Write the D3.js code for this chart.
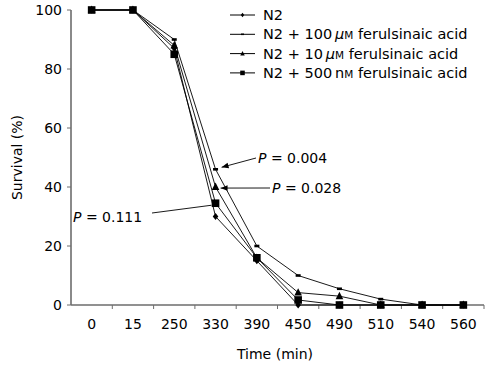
<!DOCTYPE html>
<html>
<head>
<meta charset="utf-8">
<script src="https://d3js.org/d3.v7.min.js"></script>
<style>
  body { margin: 0; background: #fff; }
  svg text { font-family: "DejaVu Sans", "Open Sans", sans-serif; fill: #000; }
</style>
</head>
<body>
<svg id="chart" width="485" height="365"></svg>
<script>
// data
var times   = ["0", "15", "250", "330", "390", "450", "490", "510", "540", "560"];
var n2      = [100, 100, 87, 30, 15, 0, 0, 0, 0, 0];
var fa100uM = [100, 100, 90, 46, 20, 10, 5.5, 2, 0, 0];
var fa10uM  = [100, 100, 88, 40, 16, 4.2, 3, 0, 0, 0];
var fa500nM = [100, 100, 85, 34.5, 16, 1.7, 0, 0, 0, 0];
var yTicks  = [0, 20, 40, 60, 80, 100];

var svg = d3.select("#chart");

var x = d3.scaleBand().domain(times).range([71, 484]).padding(0);
var y = d3.scaleLinear().domain([0, 100]).range([305, 10]);
function cx(t) { return x(t) + x.bandwidth() / 2; }

var series = [
  {name: "N2", vals: n2, sym: "diamond"},
  {name: "N2 + 100 μM ferulsinaic acid", vals: fa100uM, sym: "dash", conc: "100", unit: "μ"},
  {name: "N2 + 10 μM ferulsinaic acid", vals: fa10uM, sym: "triangle", conc: "10", unit: "μ"},
  {name: "N2 + 500 nM ferulsinaic acid", vals: fa500nM, sym: "square", conc: "500", unit: "n"}
];

function drawMarker(g, sym, px, py, s) {
  if (sym == "diamond") {
    g.append("path").attr("d", "M" + px + "," + (py - 3.6 * s) + "L" + (px + 2.8 * s) + "," + py +
      "L" + px + "," + (py + 3.6 * s) + "L" + (px - 2.8 * s) + "," + py + "Z").attr("fill", "#000");
  } else if (sym == "dash") {
    g.append("rect").attr("x", px - 2.5 * s).attr("y", py - 1.3 * s)
      .attr("width", 5 * s).attr("height", 2.6 * s).attr("fill", "#000");
  } else if (sym == "triangle") {
    g.append("path").attr("d", "M" + px + "," + (py - 4.4 * s) + "L" + (px + 3.8 * s) + "," + (py + 3 * s) +
      "L" + (px - 3.8 * s) + "," + (py + 3 * s) + "Z").attr("fill", "#000");
  } else {
    g.append("rect").attr("x", px - 3.8 * s).attr("y", py - 3.8 * s)
      .attr("width", 7.6 * s).attr("height", 7.6 * s).attr("fill", "#000");
  }
}

// axes
var axisCol = "#6d6d6d";
svg.append("line").attr("x1", 71).attr("x2", 71).attr("y1", y(100)).attr("y2", y(0))
  .attr("stroke", axisCol).attr("stroke-width", 1.6);
svg.append("line").attr("x1", 71).attr("x2", 484).attr("y1", y(0)).attr("y2", y(0))
  .attr("stroke", axisCol).attr("stroke-width", 1.6);

yTicks.forEach(function(v) {
  svg.append("line").attr("x1", 67).attr("x2", 71).attr("y1", y(v)).attr("y2", y(v))
    .attr("stroke", axisCol).attr("stroke-width", 1);
  svg.append("text").attr("x", 62).attr("y", y(v) + 5).attr("text-anchor", "end")
    .attr("font-size", 14).text(v);
});

times.forEach(function(t, i) {
  svg.append("line").attr("x1", x(t) + x.bandwidth()).attr("x2", x(t) + x.bandwidth())
    .attr("y1", y(0)).attr("y2", y(0) + 4).attr("stroke", axisCol).attr("stroke-width", 1);
  svg.append("text").attr("x", cx(t)).attr("y", 329).attr("text-anchor", "middle")
    .attr("font-size", 14).text(t);
});

svg.append("text").attr("x", 275).attr("y", 359).attr("text-anchor", "middle")
  .attr("font-size", 14).text("Time (min)");
svg.append("text").attr("transform", "translate(22," + y(50) + ") rotate(-90)")
  .attr("text-anchor", "middle").attr("font-size", 14).text("Survival (%)");

// lines + markers
var line = d3.line().x(function(d, i) { return cx(times[i]); }).y(function(d) { return y(d); });
series.forEach(function(s) {
  svg.append("path").attr("d", line(s.vals)).attr("fill", "none")
    .attr("stroke", "#000").attr("stroke-width", 0.9);
});
var mk = svg.append("g");
series.slice().reverse().forEach(function(s) {
  s.vals.forEach(function(v, i) { drawMarker(mk, s.sym, cx(times[i]), y(v), 1); });
});

// legend
var leg = svg.append("g");
series.forEach(function(s, i) {
  var ly = 15 + i * 19.3;
  leg.append("line").attr("x1", 230).attr("x2", 255).attr("y1", ly).attr("y2", ly)
    .attr("stroke", "#000").attr("stroke-width", 1);
  drawMarker(leg, s.sym, 242.5, ly, 0.6);
  var t = leg.append("text").attr("x", 263).attr("y", ly + 5).attr("font-size", 14.5);
  if (!s.conc) { t.text(s.name); return; }
  t.append("tspan").text("N2 + " + s.conc + "\u2009");
  t.append("tspan").attr("font-style", s.unit == "μ" ? "italic" : "normal").text(s.unit);
  t.append("tspan").attr("font-size", 10.5).text("M");
  t.append("tspan").text(" ferulsinaic acid");
});

// P value annotations
var ann = [
  {txt: "0.004", tx: 258, ty: 163, x1: 256, y1: 158, x2: cx("330") + 6, y2: y(46) - 2, arrow: true},
  {txt: "0.028", tx: 272, ty: 193, x1: 270, y1: 188, x2: cx("330") + 5, y2: y(39.3) - 1, arrow: true},
  {txt: "0.111", tx: 73, ty: 222, x1: 152, y1: 213, x2: cx("330") - 4, y2: y(34.5) + 2, arrow: false}
];
svg.append("defs").append("marker").attr("id", "ah").attr("viewBox", "0 0 10 10")
  .attr("refX", 10).attr("refY", 5).attr("markerWidth", 7).attr("markerHeight", 7)
  .attr("markerUnits", "userSpaceOnUse").attr("orient", "auto")
  .append("path").attr("d", "M0,1L10,5L0,9Z").attr("fill", "#000");
ann.forEach(function(a) {
  var l = svg.append("line").attr("x1", a.x1).attr("y1", a.y1).attr("x2", a.x2).attr("y2", a.y2)
    .attr("stroke", "#000").attr("stroke-width", 0.9);
  if (a.arrow) l.attr("marker-end", "url(#ah)");
  var t = svg.append("text").attr("x", a.tx).attr("y", a.ty).attr("font-size", 14);
  t.append("tspan").attr("font-style", "italic").text("P");
  t.append("tspan").text(" = " + a.txt);
});
</script>
</body>
</html>
